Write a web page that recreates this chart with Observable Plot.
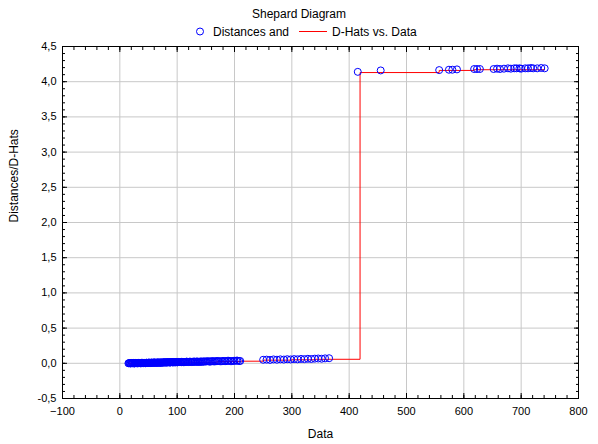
<!DOCTYPE html>
<html>
<head>
<meta charset="utf-8">
<script src="https://cdn.jsdelivr.net/npm/d3@7"></script>
<script src="https://cdn.jsdelivr.net/npm/@observablehq/plot@0.6"></script>
<style>
  body { margin: 0; background: #fff; font-family: "Liberation Sans", Arial, sans-serif; }
  #wrap { width: 598px; }
  .title { text-align: center; font-size: 12px; height: 20px; line-height: 20px; padding-top: 4px; color: #000; }
  .legend { height: 16px; font-size: 12px; position: relative; color: #000; }
  .legend svg { position: absolute; top: 0; left: 0; }
</style>
</head>
<body>
<div id="wrap">
  <div class="title">Shepard Diagram</div>
  <div class="legend"><svg width="598" height="16">
    <circle cx="200" cy="7.5" r="3.5" fill="none" stroke="#0000ff" stroke-width="1"></circle>
    <text x="213" y="12" font-size="12" font-family="Liberation Sans, Arial, sans-serif">Distances and</text>
    <line x1="299" x2="327" y1="7.5" y2="7.5" stroke="#ff0000" stroke-width="1"></line>
    <text x="332" y="12" font-size="12" font-family="Liberation Sans, Arial, sans-serif">D-Hats vs. Data</text>
  </svg></div>
  <div id="chart"></div>
</div>
<script>
// Cluster 1 (data 15-210), two interleaved sets
const dataX1a = [15,17,19,21,23,25,27,29,31,33,35,37,39,41,43,45,47,49,51,53,55,57,59,61,63,65,67,69,71,73,75,77,79,81,83,85,87,89,91,93,95,97,99,101,104,107,110,113,116,119,122,125,128,131,134,137,140,143,146,150,154,158,162,166,170,175,180,185,190,195,200,205,210];
const dist1a = [0.000,0.003,-0.002,0.004,0.001,-0.003,0.005,0.002,-0.001,0.006,0.003,0.000,0.007,0.002,0.005,0.001,
  0.008,0.004,0.010,0.006,0.011,0.005,0.009,0.012,0.007,0.010,0.013,0.006,0.011,0.008,0.014,
  0.012,0.016,0.010,0.014,0.017,0.011,0.015,0.018,0.012,0.016,0.013,0.019,0.015,
  0.018,0.015,0.020,0.017,0.022,0.019,0.024,0.018,0.023,0.021,0.026,0.020,0.025,0.022,0.027,
  0.026,0.029,0.024,0.030,0.027,0.032,0.028,0.034,0.030,0.036,0.031,0.035,0.038,0.033];
const dataX1b = [16,18,20,22,24,26,28,30,32,34,36,38,40,42,44,46,48,50,52,54,56,58,60,62,64,66,68,70,72,74,76,78,80,82,84,86,88,90,92,94,96,98,100,102,105,108,111,114,117,120,124,127,130,133,136,139,142,145,148,152,156,160,164,168,172,178,183,188,193,198,203,208];
const dist1b = [0.002,-0.001,0.004,0.001,0.005,0.000,0.003,0.006,0.002,0.004,0.001,0.007,0.003,0.006,0.002,0.008,
  0.005,0.009,0.007,0.004,0.010,0.008,0.012,0.006,0.009,0.011,0.007,0.013,0.009,0.012,0.010,
  0.014,0.011,0.015,0.013,0.016,0.012,0.017,0.014,0.018,0.015,0.017,0.014,0.019,
  0.017,0.021,0.016,0.019,0.023,0.018,0.022,0.020,0.025,0.021,0.024,0.019,0.026,0.023,0.025,
  0.028,0.025,0.031,0.027,0.030,0.033,0.029,0.032,0.035,0.031,0.034,0.037,0.033];
// Cluster 2 (data 250-365)
const dataX2 = [250,256,262,268,274,280,286,292,298,304,310,316,322,328,334,340,346,352,358,365];
const dist2 = [0.050,0.052,0.048,0.055,0.051,0.056,0.053,0.058,0.055,0.060,0.057,0.062,0.059,0.064,0.061,0.066,0.068,0.065,0.070,0.072];
// Cluster 3 (data 415-741)
const dataX3 = [415,455,557,574,580,588,618,623,628,652,658,663,670,677,682,688,692,697,700,707,712,717,721,728,735,741];
const dist3 = [4.14,4.16,4.165,4.17,4.17,4.175,4.18,4.18,4.18,4.18,4.185,4.18,4.185,4.19,4.185,4.19,4.19,4.19,4.185,4.19,4.19,4.195,4.19,4.19,4.195,4.19];
// D-hats step line
const dhatX = [15, 60, 120, 170, 210, 250, 300, 340, 419, 557, 618, 741];
const dhatY = [0.000, 0.005, 0.015, 0.025, 0.030, 0.045, 0.050, 0.057, 4.13, 4.16, 4.17, 4.17];

const xMajor = [-100, 0, 100, 200, 300, 400, 500, 600, 700, 800];
const yMajor = [-0.5, 0, 0.5, 1, 1.5, 2, 2.5, 3, 3.5, 4, 4.5];
const xMinor = d3.range(-100, 801, 20);
const yMinor = d3.range(-5, 46, 1).map(v => v / 10);

const allX = [...dataX1a, ...dataX1b, ...dataX2, ...dataX3];
const allY = [...dist1a, ...dist1b, ...dist2, ...dist3];
const points = allX.map((x, i) => ({x, y: allY[i]}));
const dhats = dhatX.map((x, i) => ({x, y: dhatY[i]}));
const fmtY = d => d.toFixed(1).replace(".", ",");

const chart = Plot.plot({
  width: 598,
  height: 404,
  marginLeft: 62,
  marginRight: 20,
  marginTop: 6,
  marginBottom: 46,
  style: { fontFamily: "Liberation Sans, Arial, sans-serif", fontSize: "11px", color: "#000", background: "#fff" },
  x: { domain: [-100, 800] },
  y: { domain: [-0.5, 4.5] },
  marks: [
    Plot.gridX(xMajor, { stroke: "#c8c8c8", strokeOpacity: 1, strokeWidth: 1 }),
    Plot.gridY(yMajor, { stroke: "#c8c8c8", strokeOpacity: 1, strokeWidth: 1 }),
    Plot.axisX(xMinor, { anchor: "bottom", tickSize: -3, text: null, label: null }),
    Plot.axisX(xMinor, { anchor: "top", tickSize: -3, text: null, label: null }),
    Plot.axisY(yMinor, { anchor: "left", tickSize: -3, text: null, label: null }),
    Plot.axisY(yMinor, { anchor: "right", tickSize: -3, text: null, label: null }),
    Plot.axisX(xMajor, { anchor: "bottom", tickSize: -5, tickPadding: 14, fontSize: 11, label: null }),
    Plot.axisX(xMajor, { anchor: "top", tickSize: -5, text: null, label: null }),
    Plot.axisY(yMajor, { anchor: "left", tickSize: -5, tickPadding: 11, tickFormat: fmtY, fontSize: 11, label: null }),
    Plot.axisY(yMajor, { anchor: "right", tickSize: -5, text: null, label: null }),
    Plot.frame({ stroke: "#000" }),
    Plot.line(dhats, { x: "x", y: "y", curve: "step-after", stroke: "#ff0000", strokeWidth: 1 }),
    Plot.dot(points, { x: "x", y: "y", r: 3.5, stroke: "#0000ff", strokeWidth: 1, fill: "none" }),
    Plot.text(["Data"], { frameAnchor: "bottom", dy: 39, fontSize: 12 }),
    Plot.text(["Distances/D-Hats"], { frameAnchor: "left", dx: -48, rotate: -90, fontSize: 12 })
  ]
});
document.getElementById("chart").appendChild(chart);
</script>
</body>
</html>
